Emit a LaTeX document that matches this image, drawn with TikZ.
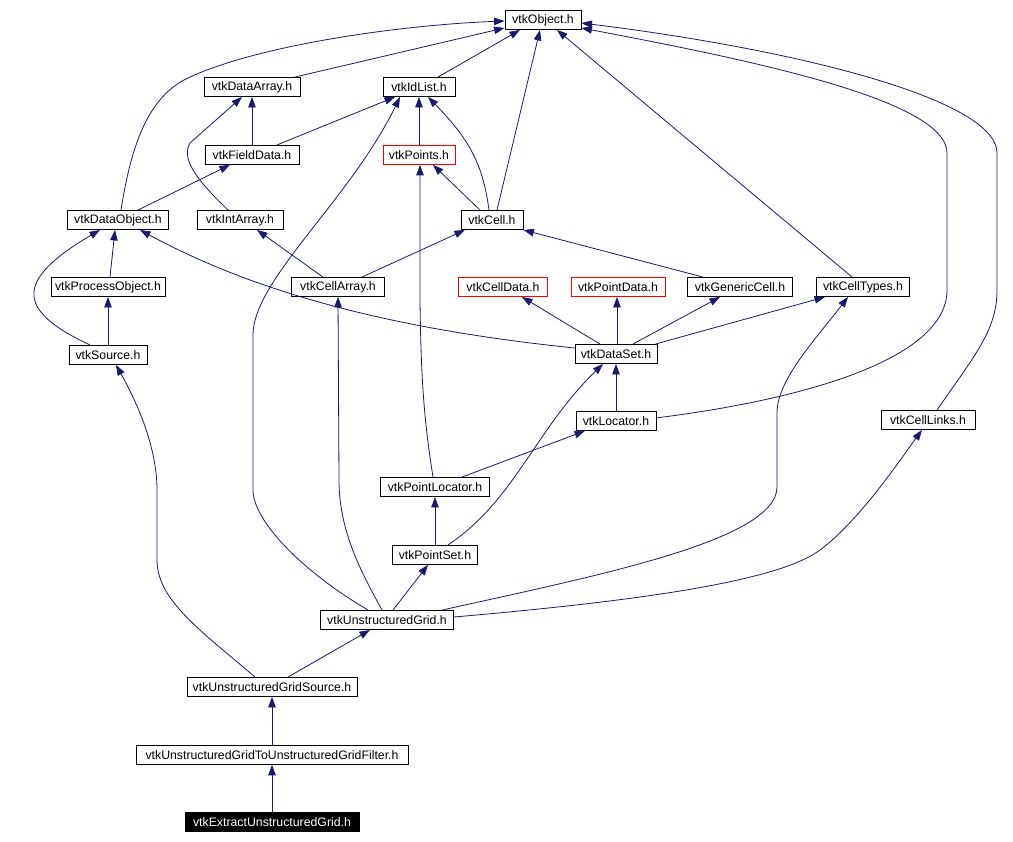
\documentclass[tikz,border=0pt]{standalone}
\usepackage{fontspec}
\setmainfont{Liberation Sans}
\usepackage{tikz}
\usetikzlibrary{arrows.meta,positioning}
\definecolor{incblue}{RGB}{25,25,112}
\tikzset{
  hdrbox/.style={draw=black, line width=0.9pt, fill=white, align=center, inner sep=0pt, minimum height=19pt, font=\fontsize{12.3}{14}\selectfont},
  hdrred/.style={hdrbox, draw=red},
  hdrmain/.style={hdrbox, fill=black, text=white},
  incline/.style={draw=incblue, line width=0.8pt, -{Triangle[length=10.5pt,width=7.5pt]}}
}
\begin{document}
\begin{tikzpicture}[x=1pt, y=-1pt, node distance=48pt]
  \path[use as bounding box, fill=white] (0,0) rectangle (1013,842);

  % header nodes, top to bottom
  \node[hdrbox, minimum width=76pt] (obj) at (543,20) {vtkObject.h};
  \node[hdrbox, minimum width=96pt] (darr) at (252,87) {vtkDataArray.h};
  \node[hdrbox, minimum width=72pt] (idl) at (419,87) {vtkIdList.h};
  \node[hdrbox, below=of darr, minimum width=94pt] (fdat) {vtkFieldData.h};
  \node[hdrred, below=of idl, minimum width=72pt] (pts) {vtkPoints.h};
  \node[hdrbox, minimum width=101pt] (dobj) at (118,220) {vtkDataObject.h};
  \node[hdrbox, minimum width=86pt] (iarr) at (240,220) {vtkIntArray.h};
  \node[hdrbox, minimum width=62pt] (cell) at (492,220) {vtkCell.h};
  \node[hdrbox, minimum width=114pt] (pobj) at (108,287) {vtkProcessObject.h};
  \node[hdrbox, minimum width=93pt] (carr) at (338,287) {vtkCellArray.h};
  \node[hdrred, minimum width=89pt] (cdat) at (503,287) {vtkCellData.h};
  \node[hdrred, minimum width=94pt] (pdat) at (618,287) {vtkPointData.h};
  \node[hdrbox, minimum width=105pt] (gcell) at (740,287) {vtkGenericCell.h};
  \node[hdrbox, minimum width=93pt] (ctyp) at (863,287) {vtkCellTypes.h};
  \node[hdrbox, below=of pobj, minimum width=78pt] (src) {vtkSource.h};
  \node[hdrbox, minimum width=82pt] (dset) at (616,354) {vtkDataSet.h};
  \node[hdrbox, below=47pt of dset, minimum width=80pt] (loc) {vtkLocator.h};
  \node[hdrbox, minimum width=94pt] (clnk) at (928,420) {vtkCellLinks.h};
  \node[hdrbox, minimum width=109pt] (ploc) at (435,487) {vtkPointLocator.h};
  \node[hdrbox, below=of ploc, minimum width=85pt] (pset) {vtkPointSet.h};
  \node[hdrbox, minimum width=133pt] (ugrid) at (387,620) {vtkUnstructuredGrid.h};
  \node[hdrbox, minimum width=170pt] (ugsrc) at (272,687) {vtkUnstructuredGridSource.h};
  \node[hdrbox, below=of ugsrc, minimum width=272pt] (ugflt) {vtkUnstructuredGridToUnstructuredGridFilter.h};
  \node[hdrmain, below=47pt of ugflt, minimum width=174pt] (extr) {vtkExtractUnstructuredGrid.h};

  % includes into vtkObject.h
  \draw[incline] ([xshift=43pt]darr.north) -- ([yshift=2pt]obj.south west);
  \draw[incline] ([xshift=3pt]dobj.north) .. controls (132,140) and (150,95) .. (190,77)
    .. controls (260,45) and (400,25) .. ([yshift=-1pt]obj.west);
  \draw[incline] ([xshift=19pt]idl.north) -- ([xshift=-23pt]obj.south);
  \draw[incline] ([xshift=5pt]cell.north) -- ([xshift=-3pt]obj.south);
  \draw[incline] ([xshift=-11pt]ctyp.north) -- ([xshift=14pt]obj.south);
  \draw[incline] ([yshift=3pt]loc.east) .. controls (800,400) and (947,360) .. (947,290) -- (947,153)
    .. controls (947,100) and (750,60) .. ([yshift=-8pt]obj.east);
  \draw[incline] ([xshift=9pt]clnk.north) .. controls (975,355) and (997,330) .. (997,290) -- (997,153)
    .. controls (997,100) and (800,50) .. ([yshift=-3pt]obj.east);

  % second and third rows
  \draw[incline] (fdat) -- (darr);
  \draw[incline] ([xshift=-12pt]iarr.north) .. controls (200,183) and (180,160) .. (190,143)
    -- ([xshift=-10pt]darr.south);
  \draw[incline] ([xshift=25pt]fdat.north) -- ([xshift=-24pt]idl.south);
  \draw[incline] (pts) -- (idl);
  \draw[incline] ([xshift=-3pt]cell.north) .. controls (483,165) and (470,140) .. ([xshift=9pt]idl.south);
  \draw[incline] ([xshift=-19pt]ugrid.north) .. controls (300,570) and (253,520) .. (253,490) -- (253,335)
    .. controls (253,280) and (350,200) .. ([xshift=-19pt]idl.south);
  \draw[incline] ([xshift=20pt]dobj.north) -- ([xshift=-22pt]fdat.south);
  \draw[incline] ([xshift=-12pt]cell.north) -- ([xshift=14pt]pts.south);
  \draw[incline] ([xshift=-2pt]ploc.north) .. controls (424,420) and (421,380) .. (420,300)
    -- ([xshift=1pt]pts.south);

  % into vtkDataObject.h and vtkCell.h
  \draw[incline] ([xshift=2pt]pobj.north) -- ([xshift=-3pt]dobj.south);
  \draw[incline] ([xshift=-18pt]src.north) .. controls (15,310) and (15,280) .. ([xshift=-18pt]dobj.south);
  \draw[incline] ([yshift=6pt]dset.west) .. controls (400,330) and (260,295) .. ([xshift=22pt]dobj.south);
  \draw[incline] (src) -- (pobj);
  \draw[incline] ([xshift=-15pt]carr.north) -- ([xshift=17pt]iarr.south);
  \draw[incline] ([xshift=24pt]carr.north) -- ([xshift=-27pt]cell.south);
  \draw[incline] ([xshift=-37pt]gcell.north) -- (cell.south east);

  % vtkDataSet.h
  \draw[incline] ([xshift=-16pt]dset.north) -- ([xshift=19pt]cdat.south);
  \draw[incline] ([xshift=1pt]dset.north) -- ([xshift=-1pt]pdat.south);
  \draw[incline] ([xshift=17pt]dset.north) -- ([xshift=-20pt]gcell.south);
  \draw[incline] ([xshift=-2pt]dset.north east) -- ([xshift=9pt]ctyp.south west);
  \draw[incline] (loc) -- (dset);
  \draw[incline] ([xshift=13pt]pset.north) .. controls (515,500) and (535,430) .. ([xshift=-13pt]dset.south);
  \draw[incline] ([xshift=27pt]ploc.north) -- ([xshift=-31pt]loc.south);
  \draw[incline] (pset) -- (ploc);

  % vtkUnstructuredGrid.h
  \draw[incline] ([xshift=-5pt]ugrid.north) .. controls (360,570) and (339,530) .. (339,480) -- (carr.south);
  \draw[incline] ([xshift=6pt]ugrid.north) -- ([xshift=-7pt]pset.south);
  \draw[incline] ([xshift=55pt]ugrid.north) .. controls (600,575) and (777,540) .. (777,487) -- (777,413)
    .. controls (777,380) and (815,340) .. ([xshift=-15pt]ctyp.south);
  \draw[incline] ([yshift=3pt]ugrid.east) .. controls (650,600) and (780,580) .. (820,550)
    .. controls (860,520) and (900,460) .. ([xshift=-6pt]clnk.south);

  % bottom chain
  \draw[incline] ([xshift=16pt]ugsrc.north) -- ([xshift=-17pt]ugrid.south);
  \draw[incline] ([xshift=-17pt]ugsrc.north) .. controls (200,630) and (157,600) .. (157,560) -- (157,490)
    .. controls (157,440) and (130,390) .. ([xshift=8pt]src.south);
  \draw[incline] (ugflt) -- (ugsrc);
  \draw[incline] (extr) -- (ugflt);
\end{tikzpicture}
\end{document}
